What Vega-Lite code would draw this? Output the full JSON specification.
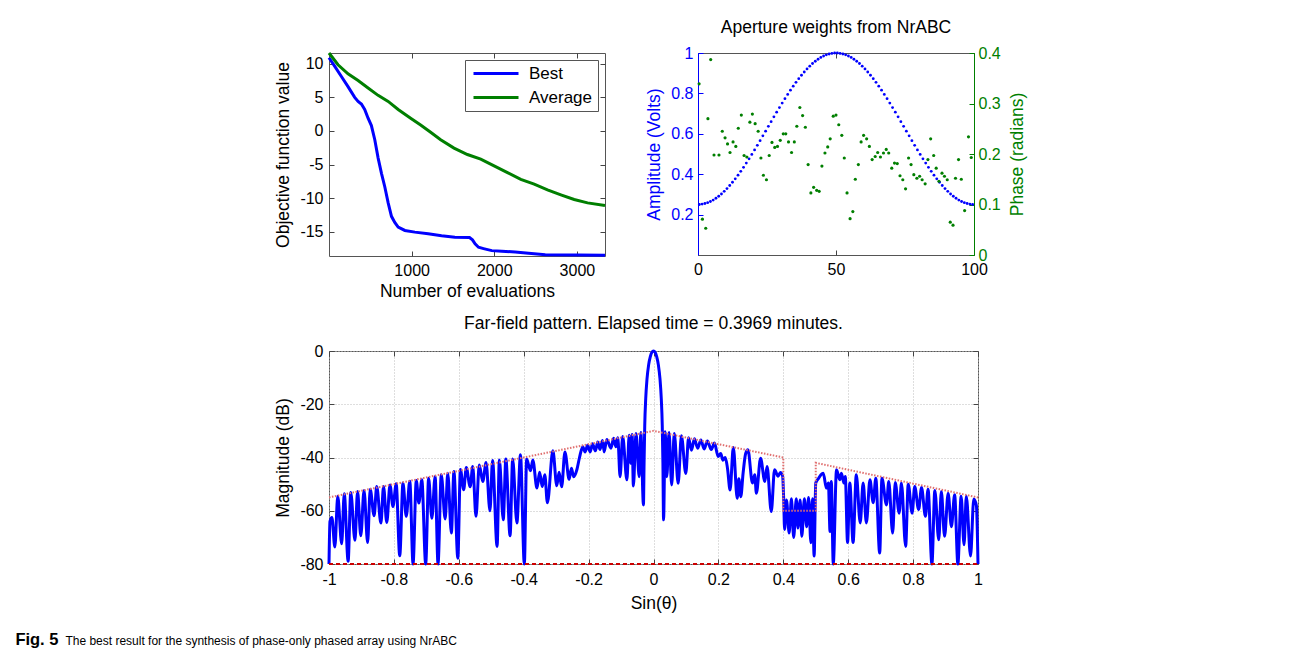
{
  "$schema": "https://vega.github.io/schema/vega-lite/v6.json",
  "background": "white",
  "padding": {"left": 15, "top": 18, "right": 5, "bottom": 5},
  "config": {
    "font": "Liberation Sans",
    "view": {"stroke": "#555", "strokeWidth": 1},
    "axis": {
      "labelFont": "Liberation Sans", "labelFontSize": 16, "labelColor": "#000", "labelFlush": false,
      "titleFont": "Liberation Sans", "titleFontSize": 17.5, "titleFontWeight": "normal", "titleColor": "#000",
      "domain": false, "tickColor": "#444", "tickSize": -5, "labelPadding": 11, "titlePadding": 7, "grid": false
    },
    "title": {"font": "Liberation Sans", "fontSize": 17.5, "fontWeight": "normal", "color": "#000"}
  },
  "datasets": {
    "obj": [
      {"s": "Best", "n": 0, "v": 10.9}, {"s": "Best", "n": 70, "v": 9.6}, {"s": "Best", "n": 150, "v": 8.1}, {"s": "Best", "n": 230, "v": 6.6},
      {"s": "Best", "n": 311, "v": 5.0}, {"s": "Best", "n": 352, "v": 4.4}, {"s": "Best", "n": 392, "v": 4.0}, {"s": "Best", "n": 432, "v": 3.2},
      {"s": "Best", "n": 473, "v": 1.9}, {"s": "Best", "n": 513, "v": 0.8}, {"s": "Best", "n": 554, "v": -1.3}, {"s": "Best", "n": 594, "v": -4.0},
      {"s": "Best", "n": 635, "v": -6.3}, {"s": "Best", "n": 675, "v": -8.3}, {"s": "Best", "n": 716, "v": -10.7}, {"s": "Best", "n": 756, "v": -12.7},
      {"s": "Best", "n": 796, "v": -13.6}, {"s": "Best", "n": 837, "v": -14.3}, {"s": "Best", "n": 918, "v": -14.8}, {"s": "Best", "n": 1039, "v": -15.05},
      {"s": "Best", "n": 1200, "v": -15.3}, {"s": "Best", "n": 1362, "v": -15.6}, {"s": "Best", "n": 1523, "v": -15.8}, {"s": "Best", "n": 1700, "v": -15.85},
      {"s": "Best", "n": 1736, "v": -16.2}, {"s": "Best", "n": 1768, "v": -16.8}, {"s": "Best", "n": 1809, "v": -17.3}, {"s": "Best", "n": 1870, "v": -17.5},
      {"s": "Best", "n": 1970, "v": -17.8}, {"s": "Best", "n": 2092, "v": -17.9}, {"s": "Best", "n": 2253, "v": -18.0}, {"s": "Best", "n": 2415, "v": -18.2},
      {"s": "Best", "n": 2617, "v": -18.4}, {"s": "Best", "n": 3021, "v": -18.45}, {"s": "Best", "n": 3340, "v": -18.5},
      {"s": "Average", "n": 0, "v": 11.6}, {"s": "Average", "n": 109, "v": 9.85}, {"s": "Average", "n": 230, "v": 8.5}, {"s": "Average", "n": 352, "v": 7.5},
      {"s": "Average", "n": 473, "v": 6.4}, {"s": "Average", "n": 594, "v": 5.3}, {"s": "Average", "n": 716, "v": 4.4}, {"s": "Average", "n": 837, "v": 3.2},
      {"s": "Average", "n": 988, "v": 1.9}, {"s": "Average", "n": 1109, "v": 0.9}, {"s": "Average", "n": 1230, "v": -0.2}, {"s": "Average", "n": 1351, "v": -1.3},
      {"s": "Average", "n": 1513, "v": -2.55}, {"s": "Average", "n": 1675, "v": -3.5}, {"s": "Average", "n": 1836, "v": -4.2}, {"s": "Average", "n": 1998, "v": -5.2},
      {"s": "Average", "n": 2160, "v": -6.2}, {"s": "Average", "n": 2321, "v": -7.2}, {"s": "Average", "n": 2483, "v": -7.9}, {"s": "Average", "n": 2644, "v": -8.75},
      {"s": "Average", "n": 2806, "v": -9.5}, {"s": "Average", "n": 2967, "v": -10.2}, {"s": "Average", "n": 3129, "v": -10.7}, {"s": "Average", "n": 3340, "v": -11.1}
    ],
    "amp": [
      {"x": 0.5, "a": 0.250}, {"x": 1.5, "a": 0.252}, {"x": 2.5, "a": 0.255}, {"x": 3.5, "a": 0.259}, {"x": 4.5, "a": 0.265},
      {"x": 5.5, "a": 0.272}, {"x": 6.5, "a": 0.281}, {"x": 7.5, "a": 0.291}, {"x": 8.5, "a": 0.302}, {"x": 9.5, "a": 0.315},
      {"x": 10.5, "a": 0.329}, {"x": 11.5, "a": 0.344}, {"x": 12.5, "a": 0.360}, {"x": 13.5, "a": 0.377}, {"x": 14.5, "a": 0.395},
      {"x": 15.5, "a": 0.414}, {"x": 16.5, "a": 0.434}, {"x": 17.5, "a": 0.455}, {"x": 18.5, "a": 0.476}, {"x": 19.5, "a": 0.498},
      {"x": 20.5, "a": 0.520}, {"x": 21.5, "a": 0.543}, {"x": 22.5, "a": 0.566}, {"x": 23.5, "a": 0.590}, {"x": 24.5, "a": 0.613},
      {"x": 25.5, "a": 0.637}, {"x": 26.5, "a": 0.660}, {"x": 27.5, "a": 0.684}, {"x": 28.5, "a": 0.707}, {"x": 29.5, "a": 0.730},
      {"x": 30.5, "a": 0.752}, {"x": 31.5, "a": 0.774}, {"x": 32.5, "a": 0.795}, {"x": 33.5, "a": 0.816}, {"x": 34.5, "a": 0.836},
      {"x": 35.5, "a": 0.855}, {"x": 36.5, "a": 0.873}, {"x": 37.5, "a": 0.890}, {"x": 38.5, "a": 0.906}, {"x": 39.5, "a": 0.921},
      {"x": 40.5, "a": 0.935}, {"x": 41.5, "a": 0.948}, {"x": 42.5, "a": 0.959}, {"x": 43.5, "a": 0.969}, {"x": 44.5, "a": 0.978},
      {"x": 45.5, "a": 0.985}, {"x": 46.5, "a": 0.991}, {"x": 47.5, "a": 0.995}, {"x": 48.5, "a": 0.998}, {"x": 49.5, "a": 1.000},
      {"x": 50.5, "a": 1.000}, {"x": 51.5, "a": 0.998}, {"x": 52.5, "a": 0.995}, {"x": 53.5, "a": 0.991}, {"x": 54.5, "a": 0.985},
      {"x": 55.5, "a": 0.978}, {"x": 56.5, "a": 0.969}, {"x": 57.5, "a": 0.959}, {"x": 58.5, "a": 0.948}, {"x": 59.5, "a": 0.935},
      {"x": 60.5, "a": 0.921}, {"x": 61.5, "a": 0.906}, {"x": 62.5, "a": 0.890}, {"x": 63.5, "a": 0.873}, {"x": 64.5, "a": 0.855},
      {"x": 65.5, "a": 0.836}, {"x": 66.5, "a": 0.816}, {"x": 67.5, "a": 0.795}, {"x": 68.5, "a": 0.774}, {"x": 69.5, "a": 0.752},
      {"x": 70.5, "a": 0.730}, {"x": 71.5, "a": 0.707}, {"x": 72.5, "a": 0.684}, {"x": 73.5, "a": 0.660}, {"x": 74.5, "a": 0.637},
      {"x": 75.5, "a": 0.613}, {"x": 76.5, "a": 0.590}, {"x": 77.5, "a": 0.566}, {"x": 78.5, "a": 0.543}, {"x": 79.5, "a": 0.520},
      {"x": 80.5, "a": 0.498}, {"x": 81.5, "a": 0.476}, {"x": 82.5, "a": 0.455}, {"x": 83.5, "a": 0.434}, {"x": 84.5, "a": 0.414},
      {"x": 85.5, "a": 0.395}, {"x": 86.5, "a": 0.377}, {"x": 87.5, "a": 0.360}, {"x": 88.5, "a": 0.344}, {"x": 89.5, "a": 0.329},
      {"x": 90.5, "a": 0.315}, {"x": 91.5, "a": 0.302}, {"x": 92.5, "a": 0.291}, {"x": 93.5, "a": 0.281}, {"x": 94.5, "a": 0.272},
      {"x": 95.5, "a": 0.265}, {"x": 96.5, "a": 0.259}, {"x": 97.5, "a": 0.255}, {"x": 98.5, "a": 0.252}, {"x": 99.5, "a": 0.250}
    ],
    "phase": [
      {"x": 0.4, "p": 0.339}, {"x": 1.6, "p": 0.071}, {"x": 2.8, "p": 0.053}, {"x": 3.6, "p": 0.270}, {"x": 4.6, "p": 0.387},
      {"x": 5.8, "p": 0.198}, {"x": 7.6, "p": 0.198}, {"x": 8.8, "p": 0.245}, {"x": 9.8, "p": 0.232}, {"x": 10.7, "p": 0.220},
      {"x": 11.6, "p": 0.203}, {"x": 12.7, "p": 0.224}, {"x": 13.7, "p": 0.215}, {"x": 14.6, "p": 0.251}, {"x": 15.7, "p": 0.277},
      {"x": 16.7, "p": 0.197}, {"x": 17.7, "p": 0.194}, {"x": 18.8, "p": 0.263}, {"x": 19.7, "p": 0.279}, {"x": 20.7, "p": 0.260},
      {"x": 21.8, "p": 0.245}, {"x": 22.8, "p": 0.192}, {"x": 23.7, "p": 0.158}, {"x": 24.8, "p": 0.149}, {"x": 25.8, "p": 0.197},
      {"x": 26.8, "p": 0.223}, {"x": 27.8, "p": 0.213}, {"x": 28.8, "p": 0.215}, {"x": 29.8, "p": 0.227}, {"x": 30.9, "p": 0.240},
      {"x": 31.8, "p": 0.240}, {"x": 32.8, "p": 0.224}, {"x": 33.9, "p": 0.203}, {"x": 34.9, "p": 0.224}, {"x": 35.8, "p": 0.255},
      {"x": 36.9, "p": 0.292}, {"x": 37.9, "p": 0.276}, {"x": 38.9, "p": 0.253}, {"x": 39.9, "p": 0.179}, {"x": 40.9, "p": 0.123},
      {"x": 41.9, "p": 0.134}, {"x": 43.0, "p": 0.128}, {"x": 43.9, "p": 0.126}, {"x": 44.9, "p": 0.176}, {"x": 46.0, "p": 0.202},
      {"x": 47.0, "p": 0.214}, {"x": 47.9, "p": 0.230}, {"x": 49.0, "p": 0.275}, {"x": 50.0, "p": 0.277}, {"x": 51.0, "p": 0.258},
      {"x": 52.1, "p": 0.237}, {"x": 53.0, "p": 0.192}, {"x": 54.0, "p": 0.123}, {"x": 55.1, "p": 0.072}, {"x": 56.1, "p": 0.086},
      {"x": 57.0, "p": 0.150}, {"x": 58.1, "p": 0.179}, {"x": 59.1, "p": 0.224}, {"x": 60.0, "p": 0.237}, {"x": 61.1, "p": 0.230},
      {"x": 62.1, "p": 0.215}, {"x": 63.1, "p": 0.189}, {"x": 64.2, "p": 0.195}, {"x": 65.1, "p": 0.203}, {"x": 66.1, "p": 0.194},
      {"x": 67.2, "p": 0.202}, {"x": 68.2, "p": 0.209}, {"x": 69.1, "p": 0.202}, {"x": 70.2, "p": 0.172}, {"x": 71.2, "p": 0.182},
      {"x": 72.2, "p": 0.181}, {"x": 73.2, "p": 0.157}, {"x": 74.2, "p": 0.149}, {"x": 75.2, "p": 0.131}, {"x": 76.3, "p": 0.192},
      {"x": 77.2, "p": 0.179}, {"x": 78.2, "p": 0.159}, {"x": 79.3, "p": 0.152}, {"x": 80.3, "p": 0.156}, {"x": 81.2, "p": 0.149},
      {"x": 82.3, "p": 0.141}, {"x": 83.3, "p": 0.189}, {"x": 84.3, "p": 0.230}, {"x": 85.4, "p": 0.197}, {"x": 86.3, "p": 0.172},
      {"x": 87.3, "p": 0.146}, {"x": 88.4, "p": 0.162}, {"x": 89.3, "p": 0.156}, {"x": 90.3, "p": 0.149}, {"x": 91.4, "p": 0.065},
      {"x": 92.4, "p": 0.059}, {"x": 93.3, "p": 0.152}, {"x": 94.4, "p": 0.189}, {"x": 95.4, "p": 0.150}, {"x": 96.6, "p": 0.088},
      {"x": 98.0, "p": 0.234}, {"x": 99.0, "p": 0.193}
    ],
    "ff": [
      {"u": -1, "d": -80}, {"u": -0.997, "d": -64}, {"u": -0.991, "d": -62.5}, {"u": -0.982, "d": -73.6}, {"u": -0.973, "d": -54.6},
      {"u": -0.961, "d": -72.4}, {"u": -0.953, "d": -53.6}, {"u": -0.941, "d": -79}, {"u": -0.933, "d": -53.1}, {"u": -0.92, "d": -71.1},
      {"u": -0.912, "d": -52.8}, {"u": -0.902, "d": -69.4}, {"u": -0.892, "d": -52.4}, {"u": -0.881, "d": -71.9}, {"u": -0.873, "d": -51.9},
      {"u": -0.861, "d": -61.9}, {"u": -0.853, "d": -50.9}, {"u": -0.84, "d": -64.6}, {"u": -0.832, "d": -50.9}, {"u": -0.822, "d": -64.4},
      {"u": -0.812, "d": -50.3}, {"u": -0.803, "d": -58.4}, {"u": -0.793, "d": -49.9}, {"u": -0.782, "d": -76.9}, {"u": -0.772, "d": -49.6},
      {"u": -0.762, "d": -62.1}, {"u": -0.751, "d": -48.9}, {"u": -0.741, "d": -80}, {"u": -0.731, "d": -48.6}, {"u": -0.723, "d": -57.1},
      {"u": -0.714, "d": -48.4}, {"u": -0.702, "d": -80}, {"u": -0.693, "d": -47.8}, {"u": -0.683, "d": -62.8}, {"u": -0.673, "d": -47.1},
      {"u": -0.664, "d": -80}, {"u": -0.654, "d": -46.5}, {"u": -0.642, "d": -63.1}, {"u": -0.634, "d": -45.9}, {"u": -0.623, "d": -68.4},
      {"u": -0.615, "d": -45.3}, {"u": -0.603, "d": -77.8}, {"u": -0.595, "d": -44.5}, {"u": -0.585, "d": -52.1}, {"u": -0.577, "d": -43.8},
      {"u": -0.565, "d": -51}, {"u": -0.557, "d": -43.4}, {"u": -0.547, "d": -62.1}, {"u": -0.537, "d": -42.8}, {"u": -0.526, "d": -49},
      {"u": -0.516, "d": -41.9}, {"u": -0.504, "d": -60}, {"u": -0.496, "d": -41.1}, {"u": -0.482, "d": -73.4}, {"u": -0.475, "d": -40.9},
      {"u": -0.463, "d": -63.4}, {"u": -0.455, "d": -40.6}, {"u": -0.442, "d": -69.4}, {"u": -0.434, "d": -40.6}, {"u": -0.421, "d": -64.6},
      {"u": -0.41, "d": -39}, {"u": -0.398, "d": -80}, {"u": -0.391, "d": -40.6}, {"u": -0.379, "d": -45}, {"u": -0.372, "d": -40.9},
      {"u": -0.359, "d": -51.5}, {"u": -0.351, "d": -45.5}, {"u": -0.343, "d": -50.9}, {"u": -0.335, "d": -46.5}, {"u": -0.327, "d": -57},
      {"u": -0.31, "d": -37.5}, {"u": -0.298, "d": -50.6}, {"u": -0.291, "d": -45.5}, {"u": -0.283, "d": -51}, {"u": -0.273, "d": -37.9},
      {"u": -0.26, "d": -48.2}, {"u": -0.253, "d": -44}, {"u": -0.246, "d": -47.2}, {"u": -0.236, "d": -44.5}, {"u": -0.228, "d": -40},
      {"u": -0.218, "d": -36}, {"u": -0.211, "d": -37.9}, {"u": -0.203, "d": -35.4}, {"u": -0.195, "d": -37.9}, {"u": -0.188, "d": -34.8},
      {"u": -0.179, "d": -37.5}, {"u": -0.172, "d": -34.2}, {"u": -0.165, "d": -37}, {"u": -0.157, "d": -33.6}, {"u": -0.152, "d": -37.9},
      {"u": -0.144, "d": -33.2}, {"u": -0.131, "d": -36.5}, {"u": -0.123, "d": -32.8}, {"u": -0.116, "d": -36}, {"u": -0.11, "d": -32.6},
      {"u": -0.103, "d": -47.2}, {"u": -0.095, "d": -32.1}, {"u": -0.082, "d": -48.4}, {"u": -0.075, "d": -31.6}, {"u": -0.07, "d": -42.2},
      {"u": -0.066, "d": -31.4}, {"u": -0.062, "d": -50.7}, {"u": -0.054, "d": -31}, {"u": -0.044, "d": -47.2}, {"u": -0.039, "d": -30.6},
      {"u": -0.031, "d": -57.8}, {"u": -0.029, "d": -42}, {"u": -0.027, "d": -28}, {"u": -0.024, "d": -18}, {"u": -0.02, "d": -10.5},
      {"u": -0.015, "d": -5.2}, {"u": -0.01, "d": -2.2}, {"u": -0.005, "d": -0.5}, {"u": 0, "d": 0}, {"u": 0.005, "d": -0.5},
      {"u": 0.01, "d": -2.2}, {"u": 0.015, "d": -5.2}, {"u": 0.02, "d": -10.5}, {"u": 0.024, "d": -18}, {"u": 0.027, "d": -28},
      {"u": 0.029, "d": -42}, {"u": 0.031, "d": -63.4}, {"u": 0.036, "d": -30.3}, {"u": 0.041, "d": -47.2}, {"u": 0.048, "d": -30.6},
      {"u": 0.056, "d": -50.3}, {"u": 0.064, "d": -31}, {"u": 0.076, "d": -49.7}, {"u": 0.086, "d": -31.8}, {"u": 0.0995, "d": -46},
      {"u": 0.108, "d": -32.6}, {"u": 0.117, "d": -37.3}, {"u": 0.126, "d": -33}, {"u": 0.136, "d": -36.5}, {"u": 0.146, "d": -33.4},
      {"u": 0.156, "d": -36.8}, {"u": 0.166, "d": -33.8}, {"u": 0.178, "d": -37}, {"u": 0.188, "d": -34.6}, {"u": 0.199, "d": -39.6},
      {"u": 0.207, "d": -38.5}, {"u": 0.214, "d": -41}, {"u": 0.221, "d": -40}, {"u": 0.228, "d": -44}, {"u": 0.236, "d": -52.2},
      {"u": 0.246, "d": -36.2}, {"u": 0.258, "d": -55.3}, {"u": 0.263, "d": -48}, {"u": 0.269, "d": -54.7}, {"u": 0.276, "d": -46},
      {"u": 0.284, "d": -38.5}, {"u": 0.291, "d": -37.1}, {"u": 0.305, "d": -49.6}, {"u": 0.312, "d": -46.5}, {"u": 0.317, "d": -53.4},
      {"u": 0.33, "d": -40.3}, {"u": 0.343, "d": -49}, {"u": 0.35, "d": -43.4}, {"u": 0.363, "d": -60.3}, {"u": 0.373, "d": -44.6},
      {"u": 0.384, "d": -47}, {"u": 0.391, "d": -45.6}, {"u": 0.398, "d": -47}, {"u": 0.401, "d": -55}, {"u": 0.404, "d": -67},
      {"u": 0.41, "d": -56}, {"u": 0.418, "d": -68.4}, {"u": 0.425, "d": -55.5}, {"u": 0.432, "d": -70}, {"u": 0.44, "d": -55.5},
      {"u": 0.445, "d": -66.5}, {"u": 0.452, "d": -56}, {"u": 0.457, "d": -69.6}, {"u": 0.465, "d": -55.5}, {"u": 0.472, "d": -66},
      {"u": 0.478, "d": -55}, {"u": 0.485, "d": -72}, {"u": 0.49, "d": -55.5}, {"u": 0.495, "d": -77}, {"u": 0.5, "d": -49.6},
      {"u": 0.508, "d": -48}, {"u": 0.516, "d": -46.5}, {"u": 0.523, "d": -45.9}, {"u": 0.533, "d": -51.5}, {"u": 0.539, "d": -49.6},
      {"u": 0.544, "d": -67.8}, {"u": 0.548, "d": -49}, {"u": 0.554, "d": -80}, {"u": 0.564, "d": -44.6}, {"u": 0.574, "d": -48.4},
      {"u": 0.579, "d": -45.9}, {"u": 0.587, "d": -49.6}, {"u": 0.591, "d": -47.1}, {"u": 0.598, "d": -71.9}, {"u": 0.605, "d": -49.6},
      {"u": 0.615, "d": -71.9}, {"u": 0.625, "d": -46.5}, {"u": 0.637, "d": -64.6}, {"u": 0.646, "d": -49.6}, {"u": 0.656, "d": -64.6},
      {"u": 0.667, "d": -48.4}, {"u": 0.677, "d": -57}, {"u": 0.685, "d": -47.8}, {"u": 0.697, "d": -75.9}, {"u": 0.704, "d": -47.8},
      {"u": 0.718, "d": -57.8}, {"u": 0.725, "d": -49}, {"u": 0.737, "d": -68.4}, {"u": 0.745, "d": -49.4}, {"u": 0.757, "d": -60.9},
      {"u": 0.764, "d": -49.6}, {"u": 0.777, "d": -73.4}, {"u": 0.785, "d": -50}, {"u": 0.797, "d": -60.9}, {"u": 0.805, "d": -50.9},
      {"u": 0.817, "d": -59.6}, {"u": 0.826, "d": -51.3}, {"u": 0.838, "d": -62.1}, {"u": 0.846, "d": -51.9}, {"u": 0.858, "d": -80},
      {"u": 0.867, "d": -52.4}, {"u": 0.879, "d": -70.9}, {"u": 0.887, "d": -52.8}, {"u": 0.897, "d": -69.6}, {"u": 0.908, "d": -53.4},
      {"u": 0.918, "d": -66}, {"u": 0.928, "d": -54}, {"u": 0.938, "d": -80}, {"u": 0.948, "d": -54.6}, {"u": 0.957, "d": -72.8},
      {"u": 0.964, "d": -54.6}, {"u": 0.977, "d": -77}, {"u": 0.987, "d": -55.6}, {"u": 0.995, "d": -58}, {"u": 1, "d": -80}
    ],
    "mask": [
      {"o": 1, "u": -1, "d": -55}, {"o": 2, "u": 0, "d": -30}, {"o": 3, "u": 0.4, "d": -40}, {"o": 4, "u": 0.4, "d": -60},
      {"o": 5, "u": 0.5, "d": -60}, {"o": 6, "u": 0.5, "d": -42}, {"o": 7, "u": 1, "d": -55}
    ],
    "floor": [
      {"u": -1, "d": -80}, {"u": 1, "d": -80}
    ]
  },
  "bounds": "flush",
  "spacing": 298,
  "resolve": {"legend": {"color": "independent"}},
  "title": {
    "text": "The best result for the synthesis of phase-only phased array using NrABC",
    "orient": "bottom", "anchor": "start", "frame": "bounds",
    "font": "Liberation Sans", "fontSize": 12, "fontWeight": "normal",
    "dx": 50, "dy": -16.9, "offset": 4
  },
  "vconcat": [
    {
      "bounds": "flush",
      "spacing": 93,
      "resolve": {"legend": {"color": "independent"}},
      "hconcat": [
        {
          "width": 276, "height": 203,
          "data": {"name": "obj"},
          "layer": [
            {
              "transform": [{"filter": "datum.s === 'Best'"}],
              "mark": {"type": "line", "strokeWidth": 3},
              "encoding": {
                "x": {"field": "n", "type": "quantitative", "scale": {"domain": [0, 3340], "nice": false},
                      "axis": {"title": "Number of evaluations", "values": [1000, 2000, 3000], "format": "d", "titlePadding": 4}},
                "y": {"field": "v", "type": "quantitative", "scale": {"domain": [-18.6, 11.6], "nice": false, "zero": false},
                      "axis": {"title": "Objective function value", "values": [-15, -10, -5, 0, 5, 10], "labelExpr": "replace(format(datum.value, '~g'), '\u2212', '-')"}},
                "color": {"field": "s", "type": "nominal", "scale": {"domain": ["Best", "Average"], "range": ["#0000ff", "#007f00"]},
                          "legend": {"title": null, "orient": "top-right", "offset": 7, "strokeColor": "#555", "fillColor": "white", "padding": 5,
                                     "symbolType": "M-1,0H8", "symbolSize": 100, "symbolStrokeWidth": 3, "labelFontSize": 17,
                                     "labelFont": "Liberation Sans", "rowPadding": 6, "labelOffset": 42}}
              }
            },
            {
              "transform": [{"filter": "datum.s === 'Average'"}],
              "mark": {"type": "line", "strokeWidth": 3},
              "encoding": {
                "x": {"field": "n", "type": "quantitative", "axis": {"orient": "top", "labels": false, "title": null, "values": [1000, 2000, 3000]}},
                "y": {"field": "v", "type": "quantitative", "axis": {"orient": "right", "labels": false, "title": null, "values": [-15, -10, -5, 0, 5, 10]}},
                "color": {"field": "s", "type": "nominal"}
              }
            }
          ],
          "resolve": {"axis": {"x": "independent", "y": "independent"}}
        },
        {
          "width": 276, "height": 202,
          "title": {"text": "Aperture weights from NrABC", "offset": 9},
          "layer": [
            {
              "data": {"name": "amp"},
              "mark": {"type": "circle", "size": 8, "color": "#0000ff", "opacity": 1},
              "encoding": {
                "x": {"field": "x", "type": "quantitative", "scale": {"domain": [0, 100], "nice": false},
                      "axis": {"title": null, "values": [0, 50, 100]}},
                "y": {"field": "a", "type": "quantitative", "scale": {"domain": [0, 1], "nice": false},
                      "axis": {"title": "Amplitude (Volts)", "orient": "left", "values": [0.2, 0.4, 0.6, 0.8, 1], "format": "~g",
                               "labelColor": "#0000ff", "titleColor": "#0000ff", "tickColor": "#0000ff", "domain": true, "domainColor": "#0000ff", "labelPadding": 10}}
              }
            },
            {
              "data": {"name": "phase"},
              "mark": {"type": "circle", "size": 10, "color": "#007f00", "opacity": 1},
              "encoding": {
                "x": {"field": "x", "type": "quantitative", "axis": {"orient": "top", "labels": false, "title": null, "values": [0, 50, 100]}},
                "y": {"field": "p", "type": "quantitative", "scale": {"domain": [0, 0.4], "nice": false},
                      "axis": {"title": "Phase (radians)", "orient": "right", "titleAngle": 270, "values": [0, 0.1, 0.2, 0.3, 0.4], "format": "~g",
                               "labelColor": "#007f00", "titleColor": "#007f00", "tickColor": "#007f00", "domain": true, "domainColor": "#007f00", "labelPadding": 9, "titlePadding": 26}}
              }
            }
          ],
          "resolve": {"scale": {"y": "independent"}, "axis": {"x": "independent", "y": "independent"}}
        }
      ]
    },
    {
      "bounds": "flush",
      "title": {
        "text": "Fig. 5", "orient": "bottom", "anchor": "start", "frame": "bounds",
        "font": "Liberation Sans", "fontSize": 16.5, "fontWeight": "bold",
        "dx": -259, "offset": 20
      },
      "vconcat": [
        {
          "width": 649, "height": 213,
          "title": {"text": "Far-field pattern. Elapsed time = 0.3969 minutes.", "offset": 11},
          "layer": [
            {
              "data": {"name": "ff"},
              "mark": {"type": "line", "color": "#0000ff", "strokeWidth": 3, "interpolate": "monotone"},
              "encoding": {
                "x": {"field": "u", "type": "quantitative", "scale": {"domain": [-1, 1], "nice": false},
                      "axis": {"title": "Sin(θ)", "values": [-1, -0.8, -0.6, -0.4, -0.2, 0, 0.2, 0.4, 0.6, 0.8, 1],
                               "labelExpr": "replace(format(datum.value, '~g'), '\u2212', '-')",
                               "grid": true, "gridColor": "#bdbdbd", "gridDash": [1, 2], "labelPadding": 12, "titlePadding": 7}},
                "y": {"field": "d", "type": "quantitative", "scale": {"domain": [-80, 0], "nice": false},
                      "axis": {"title": "Magnitude (dB)", "values": [-80, -60, -40, -20, 0],
                               "labelExpr": "replace(format(datum.value, '~g'), '\u2212', '-')",
                               "grid": true, "gridColor": "#bdbdbd", "gridDash": [1, 2]}}
              }
            },
            {
              "data": {"name": "mask"},
              "mark": {"type": "line", "color": "#e07070", "strokeWidth": 2, "strokeDash": [1.5, 1.5]},
              "encoding": {
                "x": {"field": "u", "type": "quantitative", "axis": {"orient": "top", "labels": false, "title": null, "values": [-1, -0.8, -0.6, -0.4, -0.2, 0, 0.2, 0.4, 0.6, 0.8, 1]}},
                "y": {"field": "d", "type": "quantitative", "axis": {"orient": "right", "labels": false, "title": null, "values": [-80, -60, -40, -20, 0]}},
                "order": {"field": "o", "type": "quantitative"}
              }
            },
            {
              "data": {"name": "floor"},
              "mark": {"type": "line", "color": "#cc0000", "strokeWidth": 2, "strokeDash": [4, 3]},
              "encoding": {
                "x": {"field": "u", "type": "quantitative", "axis": null},
                "y": {"field": "d", "type": "quantitative", "axis": null}
              }
            }
          ],
          "resolve": {"axis": {"x": "independent", "y": "independent"}}
        }
      ]
    }
  ]
}
